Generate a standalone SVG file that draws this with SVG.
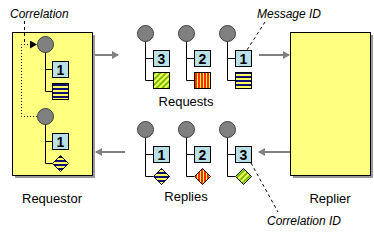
<svg xmlns="http://www.w3.org/2000/svg" width="374" height="237" viewBox="0 0 374 237">
<style>
.sys{fill:#ffff80;stroke:#000;stroke-width:1}
.shadow{fill:#999}
.dot{fill:#808080;stroke:#404040;stroke-width:1}
.tree{fill:none;stroke:#000;stroke-width:1}
.id{fill:#b8e0e6;stroke:#000;stroke-width:1}
.idt{font-family:"Liberation Sans",Arial,sans-serif;font-size:14px;font-weight:bold;text-anchor:middle;fill:#000}
.lbl{font-family:"Liberation Sans",Arial,sans-serif;font-size:13px;text-anchor:middle;fill:#000}
.note{font-family:"Liberation Sans",Arial,sans-serif;font-size:12px;font-style:italic;fill:#000}
.flow{stroke:#808080;stroke-width:2;fill:none;marker-end:url(#ah)}
.dash{stroke:#000;stroke-width:1;stroke-dasharray:3,3;fill:none}
.pat{stroke:#000;stroke-width:1}
</style>
<defs>
<marker id="ah" markerWidth="7" markerHeight="8" refX="6" refY="4" orient="auto" markerUnits="userSpaceOnUse">
<path d="M0,0 L7,4 L0,8 Z" fill="#808080"/>
</marker>
<marker id="bh" markerWidth="7" markerHeight="8" refX="6" refY="4" orient="auto" markerUnits="userSpaceOnUse">
<path d="M0,0 L7,4 L0,8 Z" fill="#000"/>
</marker>
<pattern id="blue" patternUnits="userSpaceOnUse" width="4" height="4">
<rect width="4" height="4" fill="#ffff60"/><rect width="4" height="2" fill="#101070"/>
</pattern>
<pattern id="red" patternUnits="userSpaceOnUse" width="3" height="3">
<rect width="3" height="3" fill="#ffff40"/><rect width="2" height="3" fill="#ff3000"/>
</pattern>
<pattern id="green" patternUnits="userSpaceOnUse" width="4" height="4" patternTransform="rotate(45)">
<rect width="4" height="4" fill="#ffff60"/><rect width="2" height="4" fill="#70c000"/>
</pattern>
</defs>

<g id="requestor">
<rect class="shadow" x="15" y="35" width="80" height="143"/>
<rect class="sys" x="12.5" y="32.5" width="80" height="143"/>
<text class="lbl" x="52" y="203">Requestor</text>
</g>

<g id="replier">
<rect class="shadow" x="293" y="35" width="80" height="143"/>
<rect class="sys" x="290.5" y="32.5" width="80" height="143"/>
<text class="lbl" x="330" y="203">Replier</text>
</g>

<g id="req-msg1">
<path class="tree" d="M45.5,44 V91.5 H53 M45.5,69.5 H53"/>
<circle class="dot" cx="45.5" cy="44.5" r="8"/>
<rect class="id" x="52.5" y="61.5" width="16" height="16"/>
<text class="idt" x="60.5" y="74.5">1</text>
<rect class="pat" x="52.5" y="83.5" width="16" height="16" fill="url(#blue)"/>
</g>

<g id="req-reply1">
<path class="tree" d="M45.5,116 V163.5 H53 M45.5,141.5 H53"/>
<circle class="dot" cx="45.5" cy="116.5" r="8"/>
<rect class="id" x="52.5" y="133.5" width="16" height="16"/>
<text class="idt" x="60.5" y="146.5">1</text>
<path class="pat" d="M60.5,155.5 L68.5,163.5 L60.5,171.5 L52.5,163.5 Z" fill="url(#blue)"/>
</g>

<g id="request3">
<path class="tree" d="M145.5,34 V80.5 H153 M145.5,58.5 H153"/>
<circle class="dot" cx="145.5" cy="33.5" r="8"/>
<rect class="id" x="153.5" y="50.5" width="16" height="16"/>
<text class="idt" x="161.5" y="63.5">3</text>
<rect class="pat" x="153.5" y="72.5" width="16" height="16" fill="url(#green)"/>
</g>
<g id="request2">
<path class="tree" d="M186.5,34 V80.5 H194 M186.5,58.5 H194"/>
<circle class="dot" cx="186.5" cy="33.5" r="8"/>
<rect class="id" x="194.5" y="50.5" width="16" height="16"/>
<text class="idt" x="202.5" y="63.5">2</text>
<rect class="pat" x="194.5" y="72.5" width="16" height="16" fill="url(#red)"/>
</g>
<g id="request1">
<path class="tree" d="M227.5,34 V80.5 H235 M227.5,58.5 H235"/>
<circle class="dot" cx="227.5" cy="33.5" r="8"/>
<rect class="id" x="235.5" y="50.5" width="16" height="16"/>
<text class="idt" x="243.5" y="63.5">1</text>
<rect class="pat" x="235.5" y="72.5" width="16" height="16" fill="url(#blue)"/>
</g>
<text id="requests-label" class="lbl" x="186" y="106">Requests</text>

<g id="reply1">
<path class="tree" d="M145.5,129 V176.5 H153 M145.5,154.5 H153"/>
<circle class="dot" cx="145.5" cy="129.5" r="8"/>
<rect class="id" x="153.5" y="146.5" width="16" height="16"/>
<text class="idt" x="161.5" y="159.5">1</text>
<path class="pat" d="M161.5,168.5 L169.5,176.5 L161.5,184.5 L153.5,176.5 Z" fill="url(#blue)"/>
</g>
<g id="reply2">
<path class="tree" d="M186.5,129 V176.5 H194 M186.5,154.5 H194"/>
<circle class="dot" cx="186.5" cy="129.5" r="8"/>
<rect class="id" x="194.5" y="146.5" width="16" height="16"/>
<text class="idt" x="202.5" y="159.5">2</text>
<path class="pat" d="M202.5,168.5 L210.5,176.5 L202.5,184.5 L194.5,176.5 Z" fill="url(#red)"/>
</g>
<g id="reply3">
<path class="tree" d="M227.5,129 V176.5 H235 M227.5,154.5 H235"/>
<circle class="dot" cx="227.5" cy="129.5" r="8"/>
<rect class="id" x="235.5" y="146.5" width="16" height="16"/>
<text class="idt" x="243.5" y="159.5">3</text>
<path class="pat" d="M243.5,168.5 L251.5,176.5 L243.5,184.5 L235.5,176.5 Z" fill="url(#green)"/>
</g>
<text id="replies-label" class="lbl" x="186" y="201">Replies</text>

<g id="notes">
<text class="note" x="10" y="18">Correlation</text>
<text class="note" x="257" y="18">Message ID</text>
<text class="note" x="267" y="225">Correlation ID</text>
</g>

<g id="connectors">
<line class="flow" x1="95" y1="55" x2="118" y2="55"/>
<line class="flow" x1="259" y1="55" x2="289" y2="55"/>
<line class="flow" x1="290" y1="152" x2="259" y2="152"/>
<line class="flow" x1="125" y1="152" x2="96" y2="152"/>
<line class="dash" x1="24.5" y1="21" x2="24.5" y2="44"/>
<path d="M37,116.5 H21.5 V44.5 H36" fill="none" stroke="#000" stroke-width="1" stroke-dasharray="1,2" marker-end="url(#bh)"/>
<line class="dash" x1="265" y1="22" x2="247" y2="50"/>
<line class="dash" x1="251" y1="163" x2="278" y2="212"/>
</g>
</svg>
